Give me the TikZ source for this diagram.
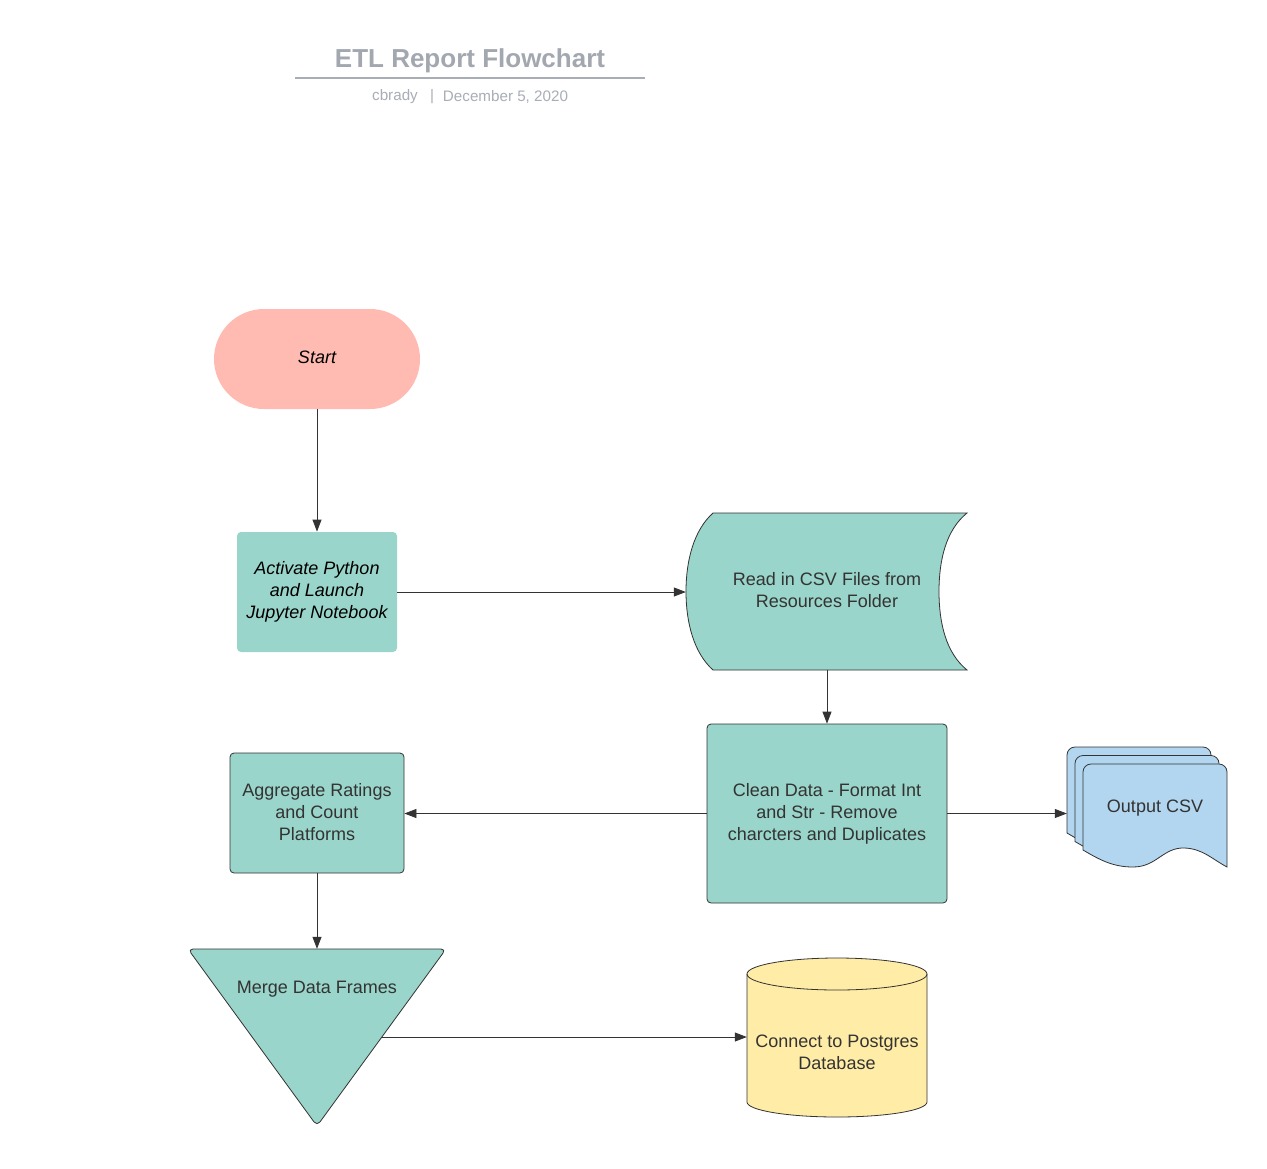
\documentclass[tikz,border=0pt]{standalone}
\usepackage{fontspec}
\setmainfont{Liberation Sans}
\usetikzlibrary{arrows.meta}
\definecolor{tealc}{HTML}{99D5CA}
\definecolor{salmonc}{HTML}{FFBBB1}
\definecolor{bluec}{HTML}{B2D6F0}
\definecolor{yellowc}{HTML}{FFECA6}
\definecolor{linec}{HTML}{333333}
\definecolor{textc}{HTML}{333333}
\definecolor{titlec}{HTML}{A3A8B0}
\definecolor{subc}{HTML}{A9ADB5}
\newcommand{\fsz}{\fontsize{18}{22}\selectfont}
\begin{document}
\begin{tikzpicture}[x=1pt,y=-1pt,
  box/.style={draw=linec, line width=0.8pt, fill=tealc, rounded corners=4pt, text=textc, font=\fsz, align=center, inner sep=0pt},
  ghost/.style={inner sep=0pt, text=textc, font=\fsz, align=center},
  shapeline/.style={draw=linec, line width=0.8pt},
  subtxt/.style={font=\fontsize{15.2}{18}\selectfont, text=subc},
  arr/.style={draw=linec, line width=0.8pt, -{Triangle[length=12pt,width=9pt]}}]
\useasboundingbox (0,0) rectangle (1267,1168);
\fill[white] (0,0) rectangle (1267,1168);

% title
\node[font=\fontsize{26}{30}\selectfont\bfseries, text=titlec] (title) at (470,61) {ETL Report Flowchart};
\draw[subc, line width=1.6pt] (295,78) -- (645,78);
\node[subtxt] (author) at (395,97) {cbrady};
\node[subtxt] (bar) at (432,97) {|};
\node[subtxt] (date) at (505.5,97) {December 5, 2020};

% start
\node[fill=salmonc, rounded corners=50pt, minimum width=206pt, minimum height=100pt, inner sep=0pt, text=black] (start) at (317,359) {};
\node[ghost, font=\fsz\itshape, text=black] (starttxt) at (317,357) {Start};

% activate
\node[box, draw=none, minimum width=160pt, minimum height=120pt, font=\fsz\itshape, text=black] (act) at (317,592) {Activate Python\\and Launch\\Jupyter Notebook};

% read (stored data)
\path[shapeline, fill=tealc] (713,513) -- (967,513)
  .. controls (946,530) and (939,560) .. (939,591.5)
  .. controls (939,623) and (946,653) .. (967,670)
  -- (713,670)
  .. controls (694,653) and (686,623) .. (686,591.5)
  .. controls (686,560) and (694,530) .. (713,513) -- cycle;
\node[ghost, minimum width=281pt, minimum height=157pt] (read) at (826.5,591.5) {};
\node[ghost] (readtxt) at (827,590) {Read in CSV Files from\\Resources Folder};

% clean
\node[box, minimum width=240pt, minimum height=179pt] (clean) at (827,813.5) {Clean Data - Format Int\\and Str - Remove\\charcters and Duplicates};

% aggregate
\node[box, minimum width=174pt, minimum height=120pt] (agg) at (317,813) {};
\node[ghost] (aggtxt) at (317,812) {Aggregate Ratings\\and Count\\Platforms};

% output csv (multi document)
\foreach \dx/\dy in {-16/-17, -8/-8.5, 0/0} {
  \path[shapeline, fill=bluec, shift={(\dx,\dy)}] (1083,850) -- (1083,772)
    .. controls (1083,767.6) and (1086.6,764) .. (1091,764) -- (1219,764)
    .. controls (1223.4,764) and (1227,767.6) .. (1227,772) -- (1227,867)
    .. controls (1212,859) and (1203,849) .. (1185,848)
    .. controls (1163,847) and (1157,867) .. (1133,867)
    .. controls (1113,867) and (1100,860) .. (1083,850) -- cycle;
}
\node[ghost, minimum width=160pt, minimum height=121pt] (out) at (1147,807.5) {};
\node[ghost] (outtxt) at (1155,808) {Output CSV};

% merge triangle
\path[shapeline, fill=tealc, rounded corners=5pt] (188,949) -- (446,949) -- (317,1126) -- cycle;
\node[ghost, minimum width=254pt, minimum height=175pt] (merge) at (317,1036.5) {};
\node[ghost] (mergetxt) at (317,989) {Merge Data Frames};
\coordinate (mergeout) at (382,1037);

% database cylinder
\path[shapeline, fill=yellowc] (747,974) -- (747,1102)
  arc[start angle=180, end angle=0, x radius=90, y radius=15]
  -- (927,974)
  arc[start angle=0, end angle=-180, x radius=90, y radius=16] -- cycle;
\draw[shapeline] (747,974) arc[start angle=180, end angle=0, x radius=90, y radius=16];
\node[ghost, minimum width=180pt, minimum height=158pt] (db) at (837,1038) {};
\node[ghost] (dbtxt) at (837,1052) {Connect to Postgres\\Database};

% connectors
\draw[arr] (start.south) -- (act.north);
\draw[arr] (act.east) -- (act.east -| read.west);
\draw[arr] (read.south -| clean.north) -- (clean.north);
\draw[arr] (clean.west) -- (clean.west -| agg.east);
\draw[arr] (clean.east) -- (clean.east -| out.west);
\draw[arr] (agg.south) -- (merge.north);
\draw[arr] (mergeout) -- (mergeout -| db.west);
\end{tikzpicture}
\end{document}
